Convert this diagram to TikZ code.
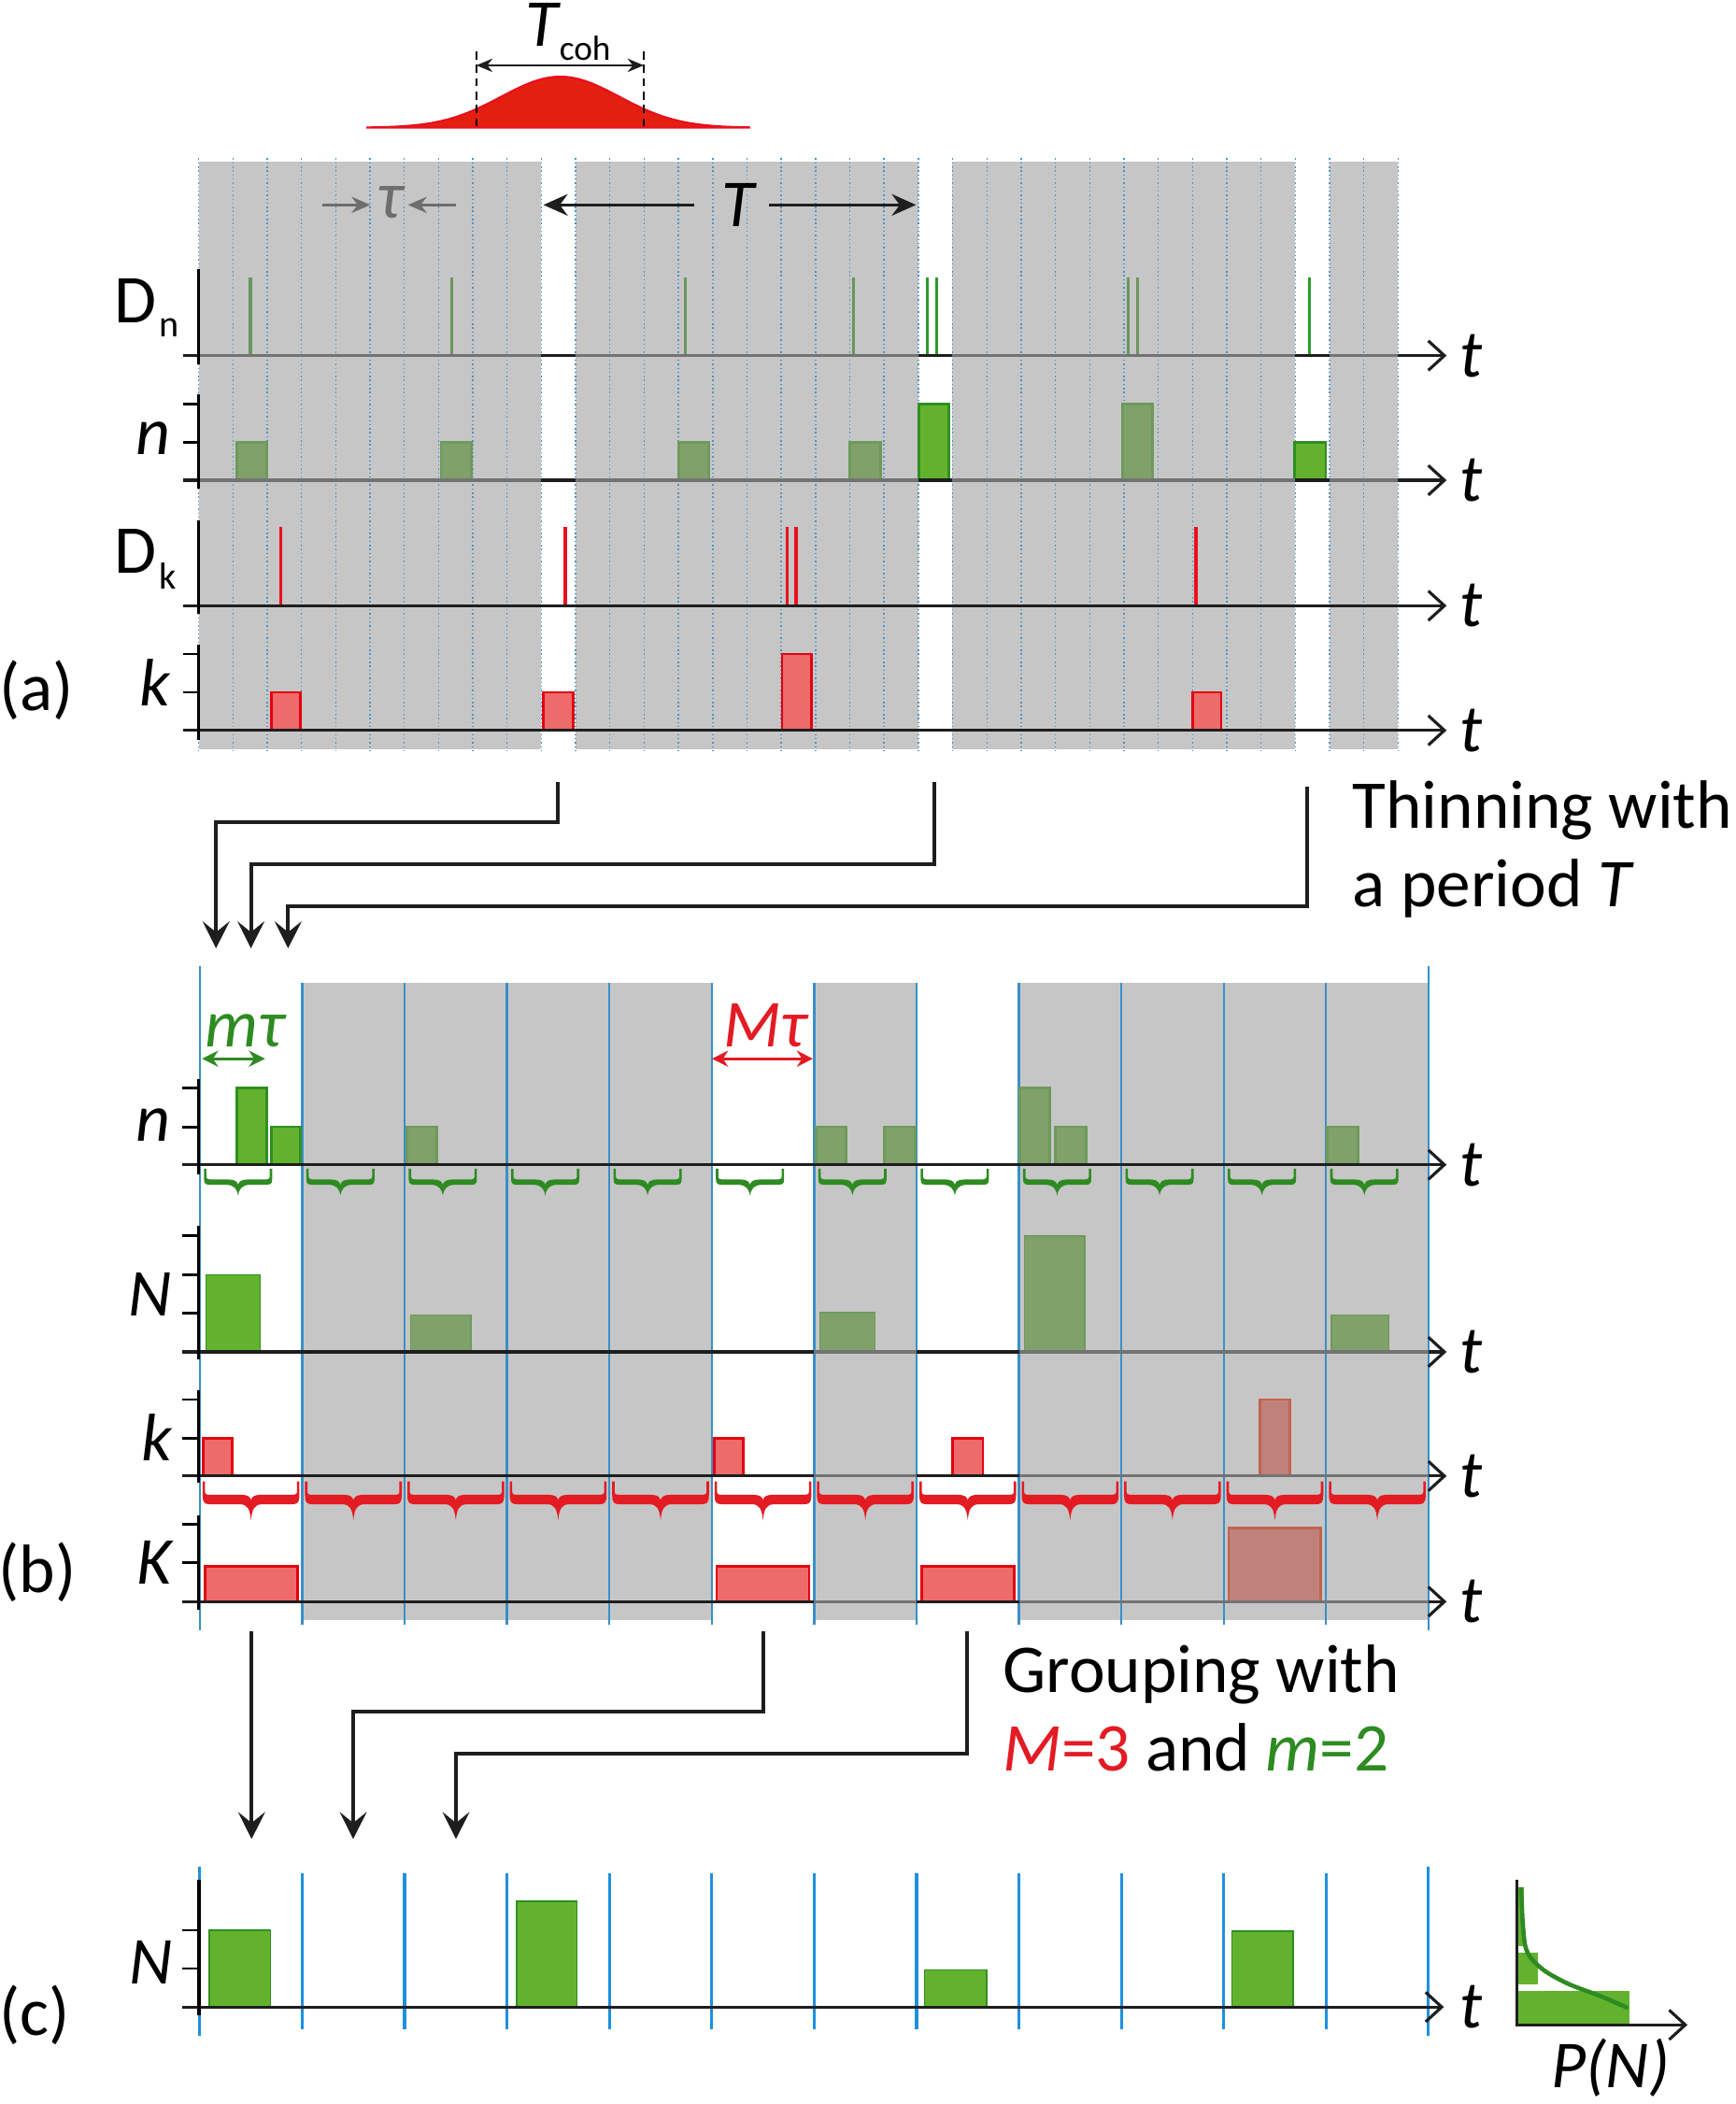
\documentclass[tikz,border=0pt]{standalone}
\usepackage{fontspec}
\setmainfont{Carlito}
\usetikzlibrary{arrows.meta}
\definecolor{bggray}{HTML}{C6C6C6}
\definecolor{dotblue}{HTML}{4A92C8}
\definecolor{lineblue}{HTML}{3A8FC6}
\definecolor{cblue}{HTML}{1E90DC}
\definecolor{axgray}{HTML}{737373}
\definecolor{axdark}{HTML}{1E1E1E}
\definecolor{gbright}{HTML}{63B22E}
\definecolor{gbrightd}{HTML}{2F8F22}
\definecolor{gmuted}{HTML}{80A16A}
\definecolor{gmutedd}{HTML}{6E9A5C}
\definecolor{gspikem}{HTML}{6A9660}
\definecolor{gspikeb}{HTML}{2E9A2E}
\definecolor{rbar}{HTML}{EE6B6B}
\definecolor{rbard}{HTML}{E3000F}
\definecolor{rmuted}{HTML}{C0817A}
\definecolor{rmutedd}{HTML}{C2634F}
\definecolor{rspike}{HTML}{E8101E}
\definecolor{gauss}{HTML}{E3200F}
\definecolor{tgreen}{HTML}{2E8B22}
\definecolor{tred}{HTML}{E31B23}
\definecolor{taugray}{HTML}{6E6E6E}
\tikzset{
  axarrow/.style={axdark, line width=1.1pt, -{Straight Barb[length=6pt,width=11pt]}},
  axg/.style={axgray, line width=1.1pt},
  vax/.style={black, line width=1.1pt},
  tickln/.style={black, line width=1pt},
  barGB/.style={fill=gbright, draw=gbrightd, line width=1pt},
  barGM/.style={fill=gmuted, draw=gmutedd, line width=1pt},
  barNB/.style={fill=gbright, draw=gbrightd, line width=0.6pt},
  barNM/.style={fill=gmuted, draw=gmutedd, line width=0.6pt},
  barRB/.style={fill=rbar, draw=rbard, line width=1pt},
  barRM/.style={fill=rmuted, draw=rmutedd, line width=1pt},
  spGM/.style={gspikem, line width=1.1pt},
  spGB/.style={gspikeb, line width=1.1pt},
  spR/.style={rspike, line width=1.1pt},
  conn/.style={axdark, line width=1.4pt, -{Stealth[length=10pt,width=10pt,inset=4pt]}},
  rlab/.style={inner sep=0pt, font=\fontsize{25.5}{30}\selectfont},
  ilab/.style={inner sep=0pt, font=\fontsize{25}{30}\selectfont\itshape},
  sublab/.style={inner sep=0pt, font=\fontsize{14}{16}\selectfont},
}
% brace: #1 start x, #2 end x, #3 top y, #4 band top y, #5 band bottom y, #6 tip y, #7 colour
\newcommand{\mybrace}[7]{%
  \pgfmathsetmacro{\bc}{(#1+#2)/2}%
  \fill[#7] (#1-0.9,#3) -- (#1-0.9,#4) .. controls (#1-0.9,#5) and (#1+1,#5) .. (#1+6,#5)
    -- (\bc-8,#5) .. controls (\bc-3,#5+0.3) and (\bc-0.8,#5+3) .. (\bc,#6)
    .. controls (\bc+0.8,#5+3) and (\bc+3,#5+0.3) .. (\bc+8,#5)
    -- (#2-6,#5) .. controls (#2-1,#5) and (#2+0.9,#5) .. (#2+0.9,#4)
    -- (#2+0.9,#3) -- (#2-0.9,#3) -- (#2-0.9,#4-2)
    .. controls (#2-0.9,#4) and (#2-3,#4) .. (#2-6,#4)
    -- (\bc+7,#4) .. controls (\bc+2.5,#4) and (\bc+0.5,#4+1.5) .. (\bc,#4+4)
    .. controls (\bc-0.5,#4+1.5) and (\bc-2.5,#4) .. (\bc-7,#4)
    -- (#1+6,#4) .. controls (#1+3,#4) and (#1+0.9,#4) .. (#1+0.9,#4-2)
    -- (#1+0.9,#3) -- cycle;}
\begin{document}
\begin{tikzpicture}[x=0.5pt, y=-0.5pt]
\useasboundingbox (0,0) rectangle (1293,1568);
\fill[white] (0,0) rectangle (1293,1568);

% ---------------- top annotations ----------------
\fill[gauss, draw=rspike, line width=0.8pt] plot[domain=273:559, samples=120]
  (\x,{95.2-38*exp(-((\x-417.5)/44)*((\x-417.5)/44)/2)}) -- cycle;
\draw[black, line width=0.7pt, dash pattern=on 3pt off 2pt] (355,38.3) -- (355,95.2);
\draw[black, line width=0.7pt, dash pattern=on 3pt off 2pt] (479.7,38.3) -- (479.7,95.2);
\draw[axdark, line width=0.7pt, {Stealth[length=6pt,width=5pt]}-{Stealth[length=6pt,width=5pt]}] (355,48.7) -- (479.7,48.7);
\node[ilab, anchor=base] (Tcoh) at (404,34.8) {T};
\node[sublab, anchor=base west, font=\fontsize{13}{15}\selectfont] (coh) at (416.5,45) {coh};

% ---------------- panel (a) ----------------
\foreach \s/\e in {148/403.4, 428.9/684.3, 709.8/965.3, 990.8/1041.9}
  \fill[bggray] (\s,120.2) rectangle (\e,558.2);
\foreach \i in {0,...,35}
  \draw[dotblue, line width=0.5pt, densely dotted] ({148+\i*25.54},118) -- ({148+\i*25.54},560);

% tau and T annotations
\node[ilab, text=taugray] (taulab) at (290.7,151) {τ};
\draw[taugray, line width=1pt, -{Stealth[length=7pt,width=6pt]}] (240,152.7) -- (276,152.7);
\draw[taugray, line width=1pt, -{Stealth[length=7pt,width=6pt]}] (339.8,152.7) -- (304,152.7);
\node[ilab] (Tlab) at (550,153) {T};
\draw[axdark, line width=1.2pt, -{Stealth[length=9pt,width=8pt]}] (517.5,152.7) -- (405,152.7);
\draw[axdark, line width=1.2pt, -{Stealth[length=9pt,width=8pt]}] (573,152.7) -- (682.6,152.7);

% spikes
\foreach \x in {186.6,336.7,510.8,636,841,847.7} \draw[spGM] (\x,206.6) -- (\x,265);
\foreach \x in {690.8,698,976} \draw[spGB] (\x,206.6) -- (\x,265);
\foreach \x in {209.2,421.2,586.6,593.2,891.2} \draw[spR] (\x,393) -- (\x,451.4);

% n bars
\foreach \a/\b in {176.6/199, 328.6/351.3, 505.6/528, 633/656.2}
  \draw[barGM] (\a,357.9) rectangle (\b,329.6);
\draw[barGM] (836.4,357.9) rectangle (859,301.2);
\draw[barGB] (684.5,357.9) rectangle (707.2,301.2);
\draw[barGB] (964.8,357.9) rectangle (988,329.6);
% k bars
\foreach \a/\b in {202/223.8, 405/427.4, 888.9/910}
  \draw[barRB] (\a,544.3) rectangle (\b,515.9);
\draw[barRB] (582.8,544.3) rectangle (605,487.4);

% axes (a)
\foreach \y in {265,357.9,451.4,544.3}
  \draw[axarrow] (136.5,\y) -- (1078,\y);
\foreach \y in {265,357.9}
  \foreach \s/\e in {148/403.4, 428.9/684.3, 709.8/965.3, 990.8/1041.9}
    \draw[axg] (\s,\y) -- (\e,\y);
\draw[vax] (148,200.8) -- (148,271.5);
\draw[vax] (148,293.6) -- (148,364.4);
\draw[vax] (148,387.6) -- (148,457.2);
\draw[vax] (148,480.4) -- (148,551.2);
\draw[tickln] (136.8,301) -- (148,301) (136.8,329.6) -- (148,329.6);
\draw[tickln] (136.8,487.4) -- (148,487.4) (136.8,515.9) -- (148,515.9);

% labels (a)
\node[rlab, anchor=base east] (Dn) at (117,240.6) {D};
\node[sublab, anchor=base west] (Dnsub) at (118.5,251) {n};
\node[ilab, anchor=base east] (na) at (127.5,338.4) {n};
\node[rlab, anchor=base east] (Dk) at (117,427) {D};
\node[sublab, anchor=base west] (Dksub) at (118.5,438.7) {k};
\node[ilab, anchor=base east] (ka) at (127.5,525.7) {k};
\node[rlab] (pa) at (27,514.6) {(a)};

% thinning connectors
\coordinate (th1s) at (415.8,583);  \coordinate (th1e) at (161,706.7);
\coordinate (th2s) at (696.5,583);  \coordinate (th2e) at (187,706.7);
\coordinate (th3s) at (974.3,586);  \coordinate (th3e) at (214.7,706.7);
\draw[conn] (th1s) -- (415.8,612.7) -- (161,612.7) -- (th1e);
\draw[conn] (th2s) -- (696.5,644) -- (187,644) -- (th2e);
\draw[conn] (th3s) -- (974.3,675.4) -- (214.7,675.4) -- (th3e);
\node[rlab, anchor=base west] (thin1) at (1007.6,617.4) {Thinning with};
\node[rlab, anchor=base west] (thin2) at (1007.6,675.4) {a period \textit{T}};

% ---------------- panel (b) ----------------
\foreach \i in {1,2,3,4,6,8,9,10,11}
  \fill[bggray] ({148.9+\i*76.3},732.5) rectangle ({148.9+(\i+1)*76.3},1207);
\foreach \i in {1,...,11}
  \draw[lineblue, line width=0.8pt] ({148.9+\i*76.3},732.5) -- ({148.9+\i*76.3},1211);
\draw[lineblue, line width=0.8pt] (148.9,720) -- (148.9,1215);
\draw[lineblue, line width=0.8pt] (1064.5,720) -- (1064.5,1215);

% m tau, M tau
\node[ilab, text=tgreen, anchor=base west] (mtau) at (152.4,780) {mτ};
\draw[tgreen, line width=1pt, {Stealth[length=6pt,width=6pt]}-{Stealth[length=6pt,width=6pt]}] (150.6,789) -- (197.5,789);
\node[ilab, text=tred, anchor=base west] (Mtau) at (538.6,780) {Mτ};
\draw[tred, line width=1pt, {Stealth[length=6pt,width=6pt]}-{Stealth[length=6pt,width=6pt]}] (530.6,789) -- (605.8,789);

% n bars (b)
\draw[barGB] (176.6,868) rectangle (198.9,810.7);
\draw[barGB] (202.1,868) rectangle (223.8,839.7);
\foreach \a/\b in {303.4/325.8, 608.2/630.2, 659/682, 786.5/809.4, 989.3/1012.2}
  \draw[barGM] (\a,868) rectangle (\b,839.7);
\draw[barGM] (760,868) rectangle (782.2,810.7);
% N bars (b)
\draw[barNB] (153.6,1007.5) rectangle (194,950);
\draw[barNM] (306,1007.5) rectangle (351,980);
\draw[barNM] (611,1007.5) rectangle (652,978);
\draw[barNM] (763.5,1007.5) rectangle (808.6,921);
\draw[barNM] (992,1007.5) rectangle (1035,980);
% k bars (b)
\foreach \a/\b in {151.6/173, 532/554, 710/732.5}
  \draw[barRB] (\a,1100) rectangle (\b,1072);
\draw[barRM] (939,1100) rectangle (961,1043);
% K bars (b)
\foreach \a/\b in {153/221.6, 534/603, 687/755.5}
  \draw[barRB] (\a,1193.6) rectangle (\b,1167);
\draw[barRM] (915.6,1193.6) rectangle (984,1138.5);

% axes (b)
\foreach \y in {868,1007.5,1100,1193.6}
  \draw[axarrow] (135.7,\y) -- (1078,\y);
\foreach \y in {1007.5,1100,1193.6}
  \foreach \s/\e in {606.7/683.0, 759.3/1064.5}
    \draw[axg] (\s,\y) -- (\e,\y);
\draw[vax] (148.2,804.2) -- (148.2,875);
\draw[vax] (148.2,913.3) -- (148.2,1013);
\draw[vax] (148.2,1036.3) -- (148.2,1104.8);
\draw[vax] (148.2,1129) -- (148.2,1200);
\draw[tickln] (135.7,811) -- (148.2,811) (135.7,840) -- (148.2,840);
\draw[tickln] (135.7,921) -- (148.2,921) (135.7,950) -- (148.2,950) (135.7,978.5) -- (148.2,978.5);
\draw[tickln] (135.7,1043) -- (148.2,1043) (135.7,1072) -- (148.2,1072);
\draw[tickln] (135.7,1136) -- (148.2,1136) (135.7,1164.7) -- (148.2,1164.7);

% braces
\foreach \i in {0,...,11}{
  \pgfmathsetmacro{\bs}{148.9+\i*76.3+4}
  \pgfmathsetmacro{\be}{148.9+\i*76.3+53}
  \mybrace{\bs}{\be}{871}{879}{883}{891}{tgreen}
}
\foreach \i in {0,...,11}{
  \pgfmathsetmacro{\bs}{148.9+\i*76.3+3}
  \pgfmathsetmacro{\be}{148.9+(\i+1)*76.3-3}
  \mybrace{\bs}{\be}{1104}{1114}{1121}{1133}{tred}
}

% labels (b)
\node[ilab, anchor=base east] (nb) at (127.6,850.6) {n};
\node[ilab, anchor=base east] (Nb) at (128.4,980.6) {N};
\node[ilab, anchor=base east] (kb) at (128.4,1088.5) {k};
\node[ilab, anchor=base east] (Kb) at (128.4,1180.2) {K};
\node[rlab] (pb) at (28,1172) {(b)};

% grouping connectors
\coordinate (g1s) at (187.5,1216);  \coordinate (g1e) at (187.5,1370.5);
\coordinate (g2s) at (568.6,1216);  \coordinate (g2e) at (263.2,1370.5);
\coordinate (g3s) at (720.7,1216);  \coordinate (g3e) at (339.8,1370.5);
\draw[conn] (g1s) -- (g1e);
\draw[conn] (g2s) -- (568.6,1275.4) -- (263.2,1275.4) -- (g2e);
\draw[conn] (g3s) -- (720.7,1306.7) -- (339.8,1306.7) -- (g3e);
\node[rlab, anchor=base west] (grp1) at (747,1261.4) {Grouping with};
\node[rlab, anchor=base west] (grp2) at (747,1319.5) {\textcolor{tred}{\textit{M}=3} and \textcolor{tgreen}{\textit{m}=2}};

% ---------------- panel (c) ----------------
\foreach \i in {1,...,11}
  \draw[cblue, line width=1.1pt] ({148.9+\i*76.3},1396) -- ({148.9+\i*76.3},1512);
\draw[cblue, line width=1.1pt] (148.9,1391) -- (148.9,1517);
\draw[cblue, line width=1.1pt] (1064.5,1391) -- (1064.5,1517);
\draw[barNB] (156,1495.7) rectangle (201.6,1438.5);
\draw[barNB] (385,1495.7) rectangle (430,1417);
\draw[barNB] (689,1495.7) rectangle (735,1468);
\draw[barNB] (918,1495.7) rectangle (963.5,1439);
\draw[axarrow] (136,1495.7) -- (1076,1495.7);
\draw[vax] (148.3,1400.7) -- (148.3,1501.7);
\draw[tickln] (136,1438.5) -- (148.3,1438.5) (136,1467) -- (148.3,1467);
\node[ilab, anchor=base east] (Nc) at (128.8,1478.5) {N};
\node[rlab] (pc) at (26,1501.6) {(c)};

% t labels
\foreach \y [count=\i] in {265,357.9,451.4,544.3,868,1007.5,1100,1193.6,1495.7}
  \node[ilab, anchor=base] (t\i) at (1096,{\y+15.6}) {t};

% P(N) inset
\fill[gbright] (1130.6,1406.6) rectangle (1135.8,1450.6);
\fill[gbright] (1130.6,1455) rectangle (1146,1479);
\fill[gbright] (1130.6,1484) rectangle (1214,1509);
\draw[tgreen, line width=1.6pt] plot[smooth] coordinates {(1133.5,1406.5) (1136.7,1450.6) (1148.7,1466.9) (1168.8,1478.5) (1193,1487.7) (1213.2,1496.5)};
\draw[axdark, line width=1.1pt, -{Straight Barb[length=6pt,width=11pt]}] (1130.6,1400.7) -- (1130.6,1509) -- (1257.5,1509);
\node[ilab] (PN) at (1200,1541) {P(N)};
\end{tikzpicture}
\end{document}
